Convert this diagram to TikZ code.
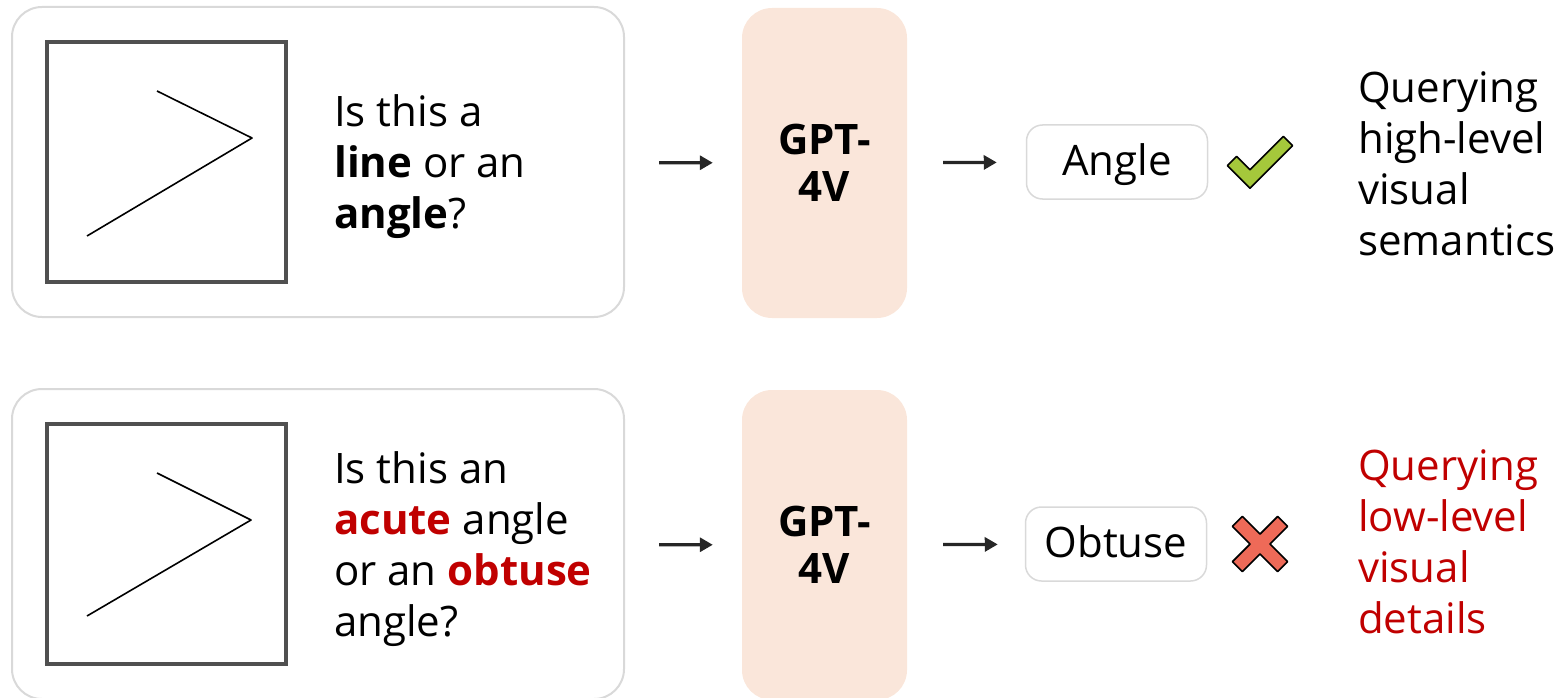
\documentclass[tikz,border=0pt]{standalone}
\usepackage{fontspec}
\setmainfont{Open Sans}
\usetikzlibrary{arrows.meta}

\definecolor{gptpeach}{HTML}{FAE6DA}
\definecolor{panelgray}{HTML}{D9D9D9}
\definecolor{framegray}{HTML}{505050}
\definecolor{wrongred}{HTML}{C00000}
\definecolor{tickgreen}{HTML}{A5C83B}
\definecolor{crossred}{HTML}{EE6A58}

\newcommand{\bigtext}{\fontsize{42}{51}\selectfont}
\newcommand{\hl}[1]{\textbf{\color{wrongred}#1}}

\tikzset{
  panel/.style={draw=panelgray,line width=2pt,rounded corners=30pt,minimum width=612pt,minimum height=310pt},
  frame/.style={draw=framegray,line width=4pt,minimum width=239pt,minimum height=240pt},
  model/.style={fill=gptpeach,rounded corners=30pt,minimum width=165pt,minimum height=310pt,
    font=\fontsize{42}{47}\selectfont\bfseries,align=center},
  answer/.style={draw=panelgray,line width=1.5pt,rounded corners=16pt,minimum width=181pt,minimum height=74pt,
    text height=34pt,text depth=8pt,font=\bigtext},
  words/.style={anchor=west,inner sep=0pt,align=left,font=\bigtext},
  flow/.style={line width=3.2pt,draw=black!85,-{Triangle[length=13pt,width=14pt]}},
  sides/.style={line width=1.6pt,line join=round},
  badge/.style={draw=black,line width=1.6pt,line join=round}
}

\begin{document}
\begin{tikzpicture}[x=1pt,y=-1pt]
\useasboundingbox (0,0) rectangle (1565,698);

\newcommand{\lowrow}{382}

%%% Top row
\node[panel] (q1) at (318,162) {};
\node[frame] (img1) at (166.5,162) {};
\draw[sides] (157,91) -- (252,138) -- (87,236);
\node[words] (txt1) at (334,167) {Is this a\\ \textbf{line} or an\\ \textbf{angle}?};

\node[model] (gpt1) at (824.5,163) {GPT-\\4V};
\node[answer] (ans1) at (1117,162) {Angle};

\draw[flow,shorten <=34pt,shorten >=29pt] (q1) -- (gpt1);
\draw[flow,shorten <=36pt,shorten >=29pt] (gpt1) -- (ans1);

% tick
\draw[badge,fill=tickgreen] (1227.4,165.6) -- (1236.6,156.4) -- (1250,169.8) -- (1283.4,136.4)
  -- (1292.6,145.6) -- (1250,188.2) -- cycle;

\node[words] (lbl1) at (1358,164) {Querying\\ high-level\\ visual\\ semantics};

%%% Bottom row
\node[panel] (q2) at (318,162+\lowrow) {};
\node[frame] (img2) at (166.5,162+\lowrow) {};
\draw[sides] (157,91+\lowrow) -- (251,138+\lowrow) -- (87,234+\lowrow);
\node[words] (txt2) at (334,167+\lowrow) {Is this an\\ \hl{acute} angle\\ or an \hl{obtuse}\\ angle?};

\node[model] (gpt2) at (824.5,163+\lowrow) {GPT-\\4V};
\node[answer] (ans2) at (1116,162+\lowrow) {Obtuse};

\draw[flow,shorten <=34pt,shorten >=29pt] (q2) -- (gpt2);
\draw[flow,shorten <=36pt,shorten >=27pt] (gpt2) -- (ans2);

% cross
\begin{scope}[shift={(1260,544)},rotate=45]
\draw[badge,fill=crossred] (-7,32) -- (7,32) -- (7,7) -- (32,7) -- (32,-7) -- (7,-7) -- (7,-32)
  -- (-7,-32) -- (-7,-7) -- (-32,-7) -- (-32,7) -- (-7,7) -- cycle;
\end{scope}

\node[words,text=wrongred] (lbl2) at (1358,160+\lowrow) {Querying\\ low-level\\ visual\\ details};

\end{tikzpicture}
\end{document}
